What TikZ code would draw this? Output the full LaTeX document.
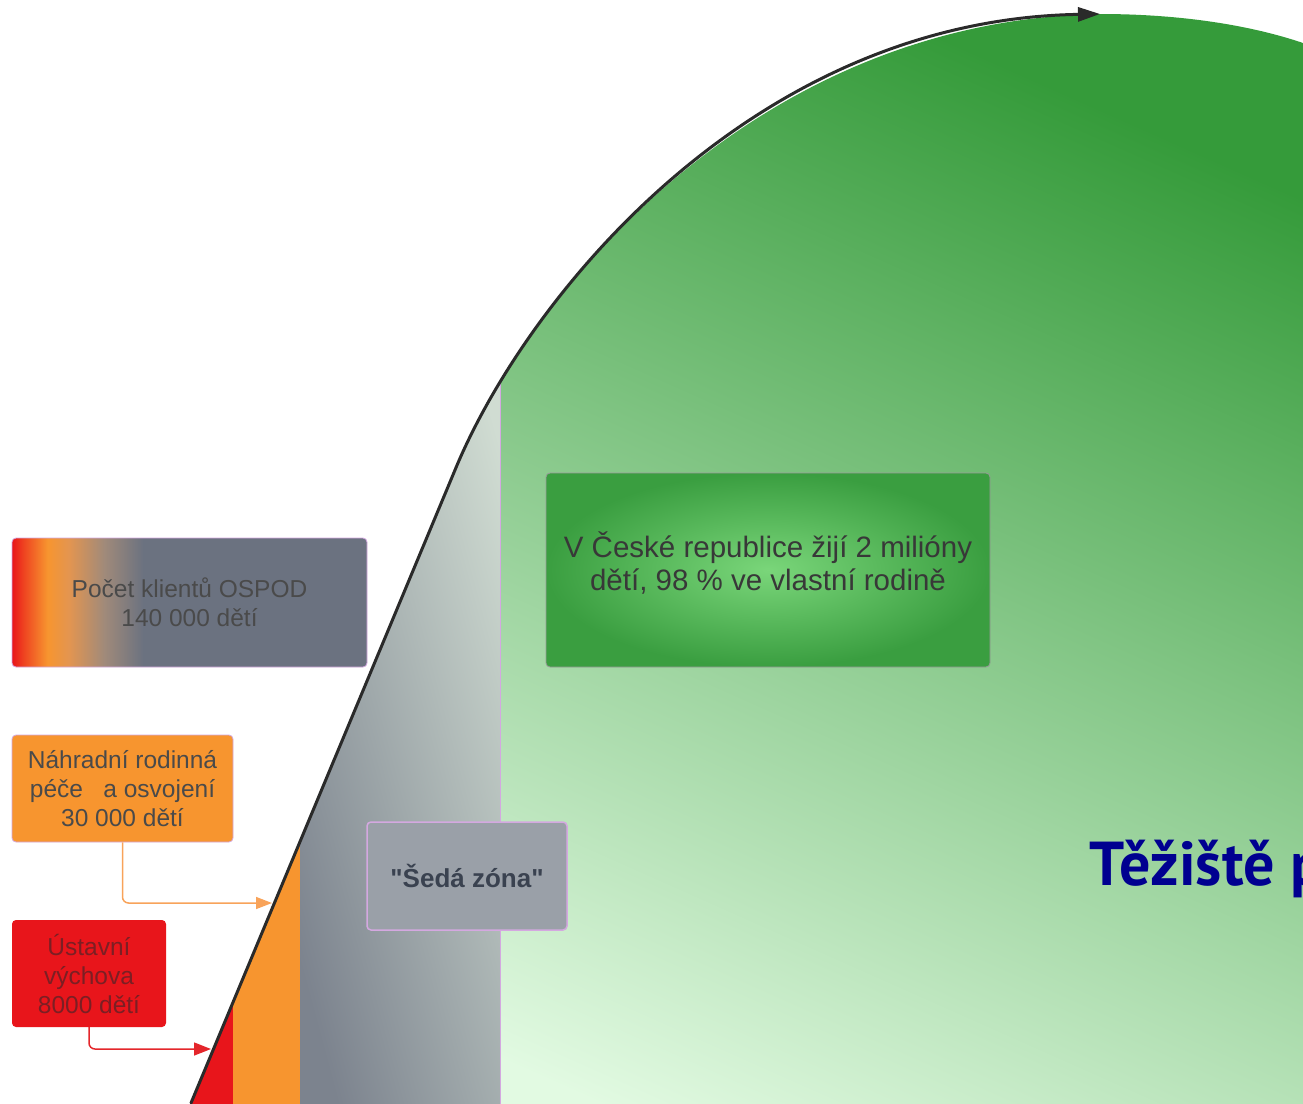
\documentclass[tikz,border=0pt]{standalone}
\usepackage{fontspec}
\setmainfont{Liberation Sans}
\newfontfamily\ptsans{PT Sans}
\newfontfamily\plainsans{Liberation Sans}
\usetikzlibrary{arrows.meta}
\definecolor{cred}{HTML}{E8151B}
\definecolor{credb}{HTML}{EE4020}
\definecolor{corange}{HTML}{F7952F}
\definecolor{corb}{HTML}{E39550}
\definecolor{cbrown}{HTML}{A08A7A}
\definecolor{cslate}{HTML}{6B7280}
\definecolor{cgraybox}{HTML}{9AA0A8}
\definecolor{cgraytxt}{HTML}{3A4250}
\definecolor{cpurple}{HTML}{D4A8E0}
\definecolor{cgdark}{HTML}{359B3A}
\definecolor{cgmid}{HTML}{98DA98}
\definecolor{cglight}{HTML}{E2FAE2}
\definecolor{cgbox}{HTML}{3A9E40}
\definecolor{cgboxc}{HTML}{7AD67A}
\definecolor{cgrayL}{HTML}{7C838E}
\definecolor{cgrayR}{HTML}{D0DCD2}
\definecolor{ctxt}{HTML}{4A4A4A}
\definecolor{credtxt}{HTML}{7B1F24}
\definecolor{cblue}{HTML}{000090}
\definecolor{cline}{HTML}{2A2A2A}
\definecolor{coarrow}{HTML}{F8A35A}
\definecolor{crarrow}{HTML}{E4262B}
\pgfdeclarehorizontalshading{ospodshade}{100bp}{color(0bp)=(cred); color(25bp)=(cred); color(26.5bp)=(credb); color(30bp)=(corange); color(33bp)=(corb); color(38bp)=(cbrown); color(43.5bp)=(cslate); color(100bp)=(cslate)}
\tikzset{
  infobox/.style={rounded corners=4pt, align=center, inner sep=0pt},
  smalltxt/.style={font=\fontsize{24.5}{29}\selectfont},
  curveline/.style={draw=cline, line width=3pt, line cap=round},
  oarrowline/.style={draw=coarrow, line width=1.5pt, rounded corners=6pt, -{Triangle[length=16pt,width=12pt]}},
  rarrowline/.style={draw=crarrow, line width=1.5pt, rounded corners=6pt, -{Triangle[length=17pt,width=13pt]}},
}
\begin{document}
\begin{tikzpicture}[x=1pt,y=-1pt]
\useasboundingbox (0,0) rectangle (1303,1103);
\clip (0,0) rectangle (1303,1103);
% curve points
\coordinate (p0) at (191,1103);
\coordinate (p1) at (455,470);
\coordinate (c1) at (525,300);
\coordinate (c2) at (750,20);
\coordinate (p2) at (1100,14);
% green area
\shade[top color=cgdark, middle color=cgmid, bottom color=cglight, shading angle=-24]
  (185,1120) -- (p0) -- (p1) .. controls (c1) and (c2) .. (p2)
  .. controls (1180,14) and (1250,25) .. (1303,43) -- (1340,60) -- (1340,1120) -- cycle;
% left regions clipped by curve
\begin{scope}
  \clip (185,1120) -- (p0) -- (p1) .. controls (c1) and (c2) .. (p2) -- (1340,0) -- (1340,1120) -- cycle;
  \shade[left color=cgrayL, right color=cgrayR, shading angle=105] (300,300) rectangle (500,1110);
  \fill[corange] (150,700) rectangle (300,1110);
  \fill[cred] (150,900) rectangle (233,1110);
  \draw[cpurple, line width=1pt] (500,300) -- (500,1110);
\end{scope}
% boxes
\node[infobox, smalltxt, shade, shading=ospodshade, draw=cpurple, line width=0.8pt, text=ctxt,
      minimum width=355pt, minimum height=129pt] (ospod) at (189.5,602.5)
      {Počet klientů OSPOD\\140 000 dětí};
\node[infobox, smalltxt, fill=corange, draw=cpurple, line width=0.8pt, text=ctxt,
      minimum width=221pt, minimum height=107pt] (nrp) at (122.5,788.5)
      {Náhradní rodinná\\péče~~~a osvojení\\30 000 dětí};
\node[infobox, smalltxt, fill=cred, text=credtxt,
      minimum width=154pt, minimum height=107pt] (uv) at (89,973.5)
      {Ústavní\\výchova\\8000 dětí};
\node[infobox, fill=cgraybox, draw=cpurple, line width=1.5pt, text=cgraytxt,
      font=\plainsans\fontsize{26}{30}\selectfont\bfseries,
      minimum width=200pt, minimum height=108pt] (seda) at (467,876)
      {"Šedá zóna"};
\node[infobox, inner color=cgboxc, outer color=cgbox, draw=gray!80, line width=0.8pt,
      minimum width=444pt, minimum height=194pt] (cr) at (768,570) {};
\node[align=center, inner sep=0pt, text=black!78, font=\fontsize{29.5}{33}\selectfont] (crtext) at (768,563)
      {V České republice žijí 2 milióny\\dětí, 98 \% ve vlastní rodině};
% big text
\node[anchor=base west, inner sep=0pt, text=cblue, font=\ptsans\bfseries\fontsize{62}{70}\selectfont] (tez) at (1089,885) {Těžiště p};
% curve
\draw[curveline, -{Triangle[length=22pt,width=14pt]}] (p0) -- (p1) .. controls (c1) and (c2) .. (p2);
% arrows
\coordinate (oa) at (272,903);
\coordinate (ra) at (211,1049);
\draw[oarrowline] (nrp.south) |- (oa);
\draw[rarrowline] (uv.south) |- (ra);
\end{tikzpicture}
\end{document}
